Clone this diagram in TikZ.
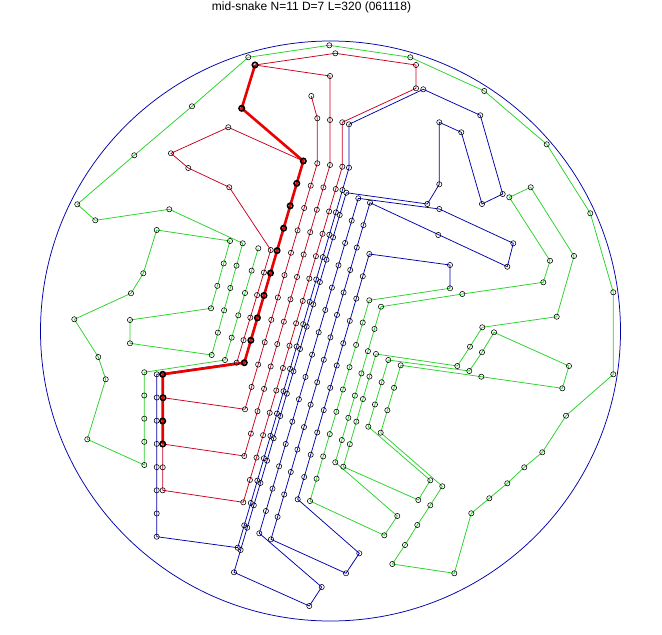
\documentclass[tikz,border=0pt]{standalone}
\usepackage{fontspec}
\setmainfont{Liberation Sans}
\usetikzlibrary{calc}
\definecolor{snred}{RGB}{200,0,30}
\definecolor{snredthick}{RGB}{235,0,0}
\definecolor{snblue}{RGB}{0,0,170}
\definecolor{sngreen}{RGB}{40,210,40}
% markers along one straight lane: style, name, from, to, steps
\newcommand{\lanemarks}[5]{%
  \foreach \k in {0,...,#5} {\node[#1] (#2-\k) at ($(#3)!\k/#5!(#4)$) {};}}

\begin{document}
\begin{tikzpicture}[x=1pt,y=-1pt,
  pt/.style={circle,draw=black,inner sep=0pt,minimum size=5.2pt,line width=0.55pt},
  ptb/.style={circle,draw=black,inner sep=0pt,minimum size=5.4pt,line width=1.6pt},
  rline/.style={draw=snred,line width=0.75pt},
  rthick/.style={draw=snredthick,line width=2.6pt},
  bline/.style={draw=snblue,line width=0.75pt},
  gline/.style={draw=sngreen,line width=0.75pt},
  lbl/.style={font=\fontsize{12}{14}\selectfont},
]
  \useasboundingbox (0,0) rectangle (662,635);
  \node[lbl,anchor=base] (title) at (311.5,10.8) {mid-snake N=11 D=7 L=320 (061118)};
  \draw[snblue,line width=0.75pt] (330.5,331) circle[radius=290pt];

  % red part
  \coordinate (rA) at (255,65);    \coordinate (rB) at (241.7,108.3);
  \coordinate (rC) at (303.3,161); \coordinate (rD) at (244.3,362.7);
  \coordinate (rE) at (162.7,374.3); \coordinate (rF) at (163,397.7);
  \coordinate (rG) at (162.7,421); \coordinate (rH) at (162.7,444);
  \coordinate (rI) at (162.7,467.3); \coordinate (rJ) at (162.7,490.3);
  \coordinate (rK) at (335.3,53.3); \coordinate (rL) at (416,65);
  \coordinate (rM) at (416,88.3);
  \coordinate (q1) at (228.3,127.3); \coordinate (q2) at (171,153.3);
  \coordinate (q3) at (188.3,168);   \coordinate (q4) at (229.3,187.3);
  \coordinate (l1t) at (270.7,250);  \coordinate (l1b) at (236.7,362.7);
  \coordinate (l3s) at (311.3,96);   \coordinate (l3a) at (317.3,118.3);
  \coordinate (l3t) at (317.3,163.3); \coordinate (l3b) at (245,409.3);
  \coordinate (l4s) at (330,76);     \coordinate (l4a) at (330,120);
  \coordinate (l4t) at (330,165);    \coordinate (l4b) at (244.3,456);
  \coordinate (l5a) at (342.3,122.3); \coordinate (l5t) at (342.3,166.7);
  \coordinate (l5b) at (243.3,502.3);

  % blue part
  \coordinate (bA) at (156.7,374.3); \coordinate (bB) at (156.7,536.7);
  \coordinate (l6s) at (349,124.3);  \coordinate (l6t) at (349,167.7);
  \coordinate (l6b) at (237.7,547.7);
  \coordinate (bC) at (423.3,89.3);  \coordinate (bD) at (480.3,115.3);
  \coordinate (bE) at (502.7,194);   \coordinate (bF) at (482,204);
  \coordinate (bG) at (461.3,132.3); \coordinate (bH) at (439.3,122.3);
  \coordinate (bI) at (439.3,184.3); \coordinate (bJ) at (427.3,204);
  \coordinate (l7t) at (346.3,192.7); \coordinate (l7b) at (234,572.3);
  \coordinate (v1a) at (309.3,606);  \coordinate (v1b) at (321.7,587);
  \coordinate (l8b) at (259.3,533.3); \coordinate (l8t) at (358.3,198.3);
  \coordinate (bK) at (439.3,209);   \coordinate (bL) at (513.3,243.3);
  \coordinate (bM) at (507.3,266.7); \coordinate (bN) at (438.3,235);
  \coordinate (l9t) at (370,202.7);  \coordinate (l9b) at (271,539.3);
  \coordinate (v2a) at (346,573.3);  \coordinate (v2b) at (359.3,553.3);
  \coordinate (l10b) at (297.7,499.3); \coordinate (l10t) at (369.3,254);
  \coordinate (bO) at (450,265);     \coordinate (bP) at (450,288.3);

  % green part
  \coordinate (l11t) at (369.3,300.3); \coordinate (l11b) at (310,501);
  \coordinate (v3a) at (384.3,535.3); \coordinate (v3b) at (397.3,516);
  \coordinate (l12b) at (335.3,462.3); \coordinate (l12t) at (381,306.7);
  \coordinate (gA) at (462.3,294);   \coordinate (gB) at (543.3,282.3);
  \coordinate (gC) at (550,260.7);   \coordinate (gD) at (509.3,197.3);
  \coordinate (gE) at (530.7,187.3); \coordinate (gF) at (574,256);
  \coordinate (gG) at (556.7,316.7); \coordinate (gH) at (482.3,327.3);
  \coordinate (gI) at (470,346.7);   \coordinate (gJ) at (457.3,366);
  \coordinate (l13t) at (376,354);   \coordinate (l13b) at (343.3,466.7);
  \coordinate (v4a) at (418.3,500);  \coordinate (v4b) at (430.3,480.3);
  \coordinate (l14b) at (368.3,426.7); \coordinate (l14t) at (388.3,360);
  \coordinate (gK) at (469.3,371);   \coordinate (gL) at (482,352.3);
  \coordinate (gM) at (494,332.3);   \coordinate (gN) at (569,366);
  \coordinate (gO) at (562.3,388.3); \coordinate (gP) at (481.3,376.7);
  \coordinate (l15t) at (400.7,365.3); \coordinate (l15b) at (380.7,432.7);
  \coordinate (gQ) at (442.3,486.3); \coordinate (gR) at (430.3,505.3);
  \coordinate (gS) at (417.3,525);   \coordinate (gT) at (405,545);
  \coordinate (gU) at (392.3,564);   \coordinate (gV) at (454.3,573.3);
  \coordinate (gW) at (471.3,513.3); \coordinate (gX) at (489.3,498.3);
  \coordinate (gY) at (507.3,483.3); \coordinate (gZ) at (524.3,467.3);
  \foreach \n/\x/\y in {1/542.3/452.3,2/566/415.7,3/613.3/374.3,4/613.3/292.3,
      5/590.3/213.3,6/546.7/144.3,7/484.3/91,8/410.3/57.3,9/329.3/45.3,
      10/248.3/57.3,11/192/106.3,12/134.3/155.3,13/77.3/204.3,14/95.3/220.3,
      15/169.3/209.3}
    \coordinate (o\n) at (\x,\y);
  \coordinate (l16t) at (242.7,243.3); \coordinate (l16b) at (211.7,355);
  \coordinate (gk1) at (130,343.3);  \coordinate (gk2) at (130,320);
  \coordinate (l17b) at (211,308.3); \coordinate (l17t) at (230,241);
  \foreach \n/\x/\y in {1/156.7/230,2/143.3/273.3,3/131/293.3,4/74.3/319.3,
      5/98.3/357,6/105.7/379.3,7/87.3/439.3}
    \coordinate (w\n) at (\x,\y);
  \coordinate (x1) at (144.3,465);   \coordinate (x2) at (144.3,372.3);
  \coordinate (l18b) at (225,360);   \coordinate (l18t) at (258.3,248.3);

  % connectors
  \draw[rline] (rC) -- (q1) -- (q2) -- (q3) -- (q4) -- (l1t) -- (l1b);
  \draw[rline] (l3s) -- (l3a) -- (l3t) -- (l3b) -- (rF);
  \draw[rline] (rA) -- (l4s) -- (l4a) -- (l4t) -- (l4b) -- (rH);
  \draw[rline] (rA) -- (rK) -- (rL) -- (rM) -- (l5a) -- (l5t) -- (l5b) -- (rJ) -- (rH);
  \draw[bline] (l1b) -- (bA) -- (bB) -- (l6b) -- (l6t) -- (l6s) -- (bC) -- (bD)
    -- (bE) -- (bF) -- (bG) -- (bH) -- (bI) -- (bJ) -- (l7t) -- (l7b) -- (v1a)
    -- (v1b) -- (l8b) -- (l8t) -- (bK) -- (bL) -- (bM) -- (l9t) -- (l9b) -- (v2a)
    -- (v2b) -- (l10b) -- (l10t) -- (bO) -- (bP);
  \draw[gline] (bP) -- (l11t) -- (l11b) -- (v3a) -- (v3b) -- (l12b) -- (l12t)
    -- (gA) -- (gB) -- (gC) -- (gD) -- (gE) -- (gF) -- (gG) -- (gH) -- (gI) -- (gJ)
    -- (l13t) -- (l13b) -- (v4a) -- (v4b) -- (l14b) -- (l14t) -- (gK) -- (gL)
    -- (gM) -- (gN) -- (gO) -- (gP) -- (l15t) -- (l15b) -- (gQ) -- (gR) -- (gS)
    -- (gT) -- (gU) -- (gV) -- (gW) -- (gX) -- (gY) -- (gZ) -- (o1) -- (o2)
    -- (o3) -- (o4) -- (o5) -- (o6) -- (o7) -- (o8) -- (o9) -- (o10) -- (o11)
    -- (o12) -- (o13) -- (o14) -- (o15) -- (l16t) -- (l16b) -- (gk1) -- (gk2)
    -- (l17b) -- (l17t) -- (w1) -- (w2) -- (w3) -- (w4) -- (w5) -- (w6) -- (w7)
    -- (x1) -- (x2) -- (l18b) -- (l18t);
  \draw[rthick] (rA) -- (rB) -- (rC) -- (rD) -- (rE) -- (rH);

  % markers
  \lanemarks{pt}{L1}{l1t}{l1b}{5}
  \lanemarks{pt}{L3}{l3t}{l3b}{11}
  \lanemarks{pt}{L4}{l4t}{l4b}{13}
  \lanemarks{pt}{L5}{l5t}{l5b}{15}
  \lanemarks{pt}{L6}{l6t}{l6b}{17}
  \lanemarks{pt}{L7}{l7t}{l7b}{17}
  \lanemarks{pt}{L8}{l8t}{l8b}{15}
  \lanemarks{pt}{L9}{l9t}{l9b}{15}
  \lanemarks{pt}{L10}{l10t}{l10b}{11}
  \lanemarks{pt}{L11}{l11t}{l11b}{9}
  \lanemarks{pt}{L12}{l12t}{l12b}{7}
  \lanemarks{pt}{L13}{l13t}{l13b}{5}
  \lanemarks{pt}{L14}{l14t}{l14b}{3}
  \lanemarks{pt}{L15}{l15t}{l15b}{3}
  \lanemarks{pt}{L16}{l16t}{l16b}{5}
  \lanemarks{pt}{L17}{l17t}{l17b}{3}
  \lanemarks{pt}{L18}{l18t}{l18b}{5}
  \lanemarks{pt}{Lb}{bA}{bB}{7}
  \lanemarks{pt}{Lg}{x2}{x1}{4}
  \lanemarks{ptb}{L2}{rC}{rD}{9}
  \foreach \c in {rK,rL,rM,q1,q2,q3,q4,l3s,l3a,l4s,l4a,l5a,rI,rJ,l6s,
      bC,bD,bE,bF,bG,bH,bI,bJ,v1a,v1b,bK,bL,bM,bN,v2a,v2b,bO,bP,v3a,v3b,
      gA,gB,gC,gD,gE,gF,gG,gH,gI,gJ,v4a,v4b,gK,gL,gM,gN,gO,gP,
      gQ,gR,gS,gT,gU,gV,gW,gX,gY,gZ,o1,o2,o3,o4,o5,o6,o7,o8,o9,o10,
      o11,o12,o13,o14,o15,gk1,gk2,w1,w2,w3,w4,w5,w6,w7}
    \node[pt] (m\c) at (\c) {};
  \foreach \c in {rA,rB,rE,rF,rG,rH}
    \node[ptb] (m\c) at (\c) {};
\end{tikzpicture}
\end{document}
